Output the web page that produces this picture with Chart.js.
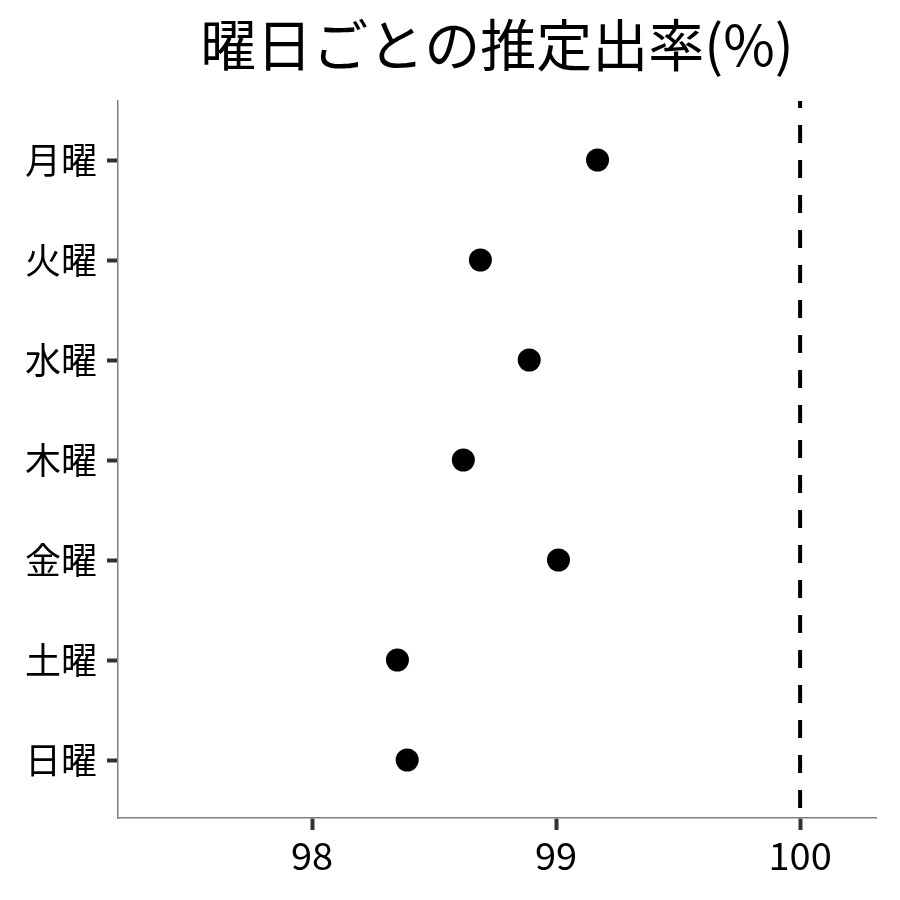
<!DOCTYPE html>
<html>
<head>
<meta charset="utf-8">
<script src="https://cdn.jsdelivr.net/npm/chart.js@4/dist/chart.umd.min.js"></script>
<style>
  html, body { margin: 0; padding: 0; background: #fff; }
  #wrap { width: 900px; height: 900px; }
</style>
</head>
<body>
<div id="wrap"><canvas id="dotChart"></canvas></div>
<script>
// data
const days = ['月曜', '火曜', '水曜', '木曜', '金曜', '土曜', '日曜'];
const rates = [99.17, 98.69, 98.89, 98.62, 99.01, 98.35, 98.39];
const xTicks = [98, 99, 100];
const refValue = 100;
const titleText = '曜日ごとの推定出率(%)';

const FONT = "'Noto Sans CJK JP', 'Noto Sans', sans-serif";

// dashed reference line at 100
const refLine = {
  id: 'refLine',
  afterDatasetsDraw(chart) {
    const { ctx, chartArea, scales } = chart;
    const x = scales.x.getPixelForValue(refValue);
    ctx.save();
    ctx.strokeStyle = '#000';
    ctx.lineWidth = 4;
    ctx.setLineDash([18, 17]);
    ctx.lineDashOffset = 11;
    ctx.beginPath();
    ctx.moveTo(x, chartArea.top);
    ctx.lineTo(x, chartArea.bottom);
    ctx.stroke();
    ctx.restore();
  }
};

// title centred over the plot panel, not the whole canvas
const panelTitle = {
  id: 'panelTitle',
  afterDraw(chart) {
    const { ctx, chartArea } = chart;
    ctx.save();
    ctx.fillStyle = '#000';
    ctx.font = `56px ${FONT}`;
    ctx.textAlign = 'center';
    ctx.textBaseline = 'middle';
    ctx.fillText(titleText, (chartArea.left + chartArea.right) / 2, 45);
    ctx.restore();
  }
};

new Chart(document.getElementById('dotChart'), {
  type: 'scatter',
  data: {
    datasets: [{
      data: rates.map((v, i) => ({ x: v, y: i })),
      pointRadius: 11.5,
      pointHoverRadius: 11.5,
      pointBackgroundColor: '#000',
      pointBorderColor: '#000',
      pointBorderWidth: 0
    }]
  },
  plugins: [refLine, panelTitle],
  options: {
    responsive: true,
    maintainAspectRatio: false,
    animation: false,
    layout: { padding: { left: 0, right: 24, top: 101, bottom: 0 } },
    plugins: {
      legend: { display: false },
      tooltip: { enabled: false },
      title: { display: false }
    },
    scales: {
      x: {
        type: 'linear',
        min: 97.205,
        max: 100.311,
        afterBuildTicks: s => { s.ticks = xTicks.map(v => ({ value: v })); },
        afterFit: s => { s.height = 82; },
        ticks: { color: '#000', font: { family: FONT, size: 38 }, padding: 3 },
        grid: { drawOnChartArea: false, drawTicks: true, tickLength: 12, tickWidth: 4, tickColor: '#333' },
        border: { color: '#808080', width: 1.5 }
      },
      y: {
        type: 'linear',
        reverse: true,
        min: -0.59,
        max: 6.58,
        afterBuildTicks: s => { s.ticks = days.map((d, i) => ({ value: i })); },
        afterFit: s => { s.width = 118; },
        ticks: { color: '#000', font: { family: FONT, size: 36 }, padding: 10, callback: v => days[v] },
        grid: { drawOnChartArea: false, drawTicks: true, tickLength: 11, tickWidth: 4, tickColor: '#333' },
        border: { color: '#808080', width: 1.5 }
      }
    }
  }
});
</script>
</body>
</html>
